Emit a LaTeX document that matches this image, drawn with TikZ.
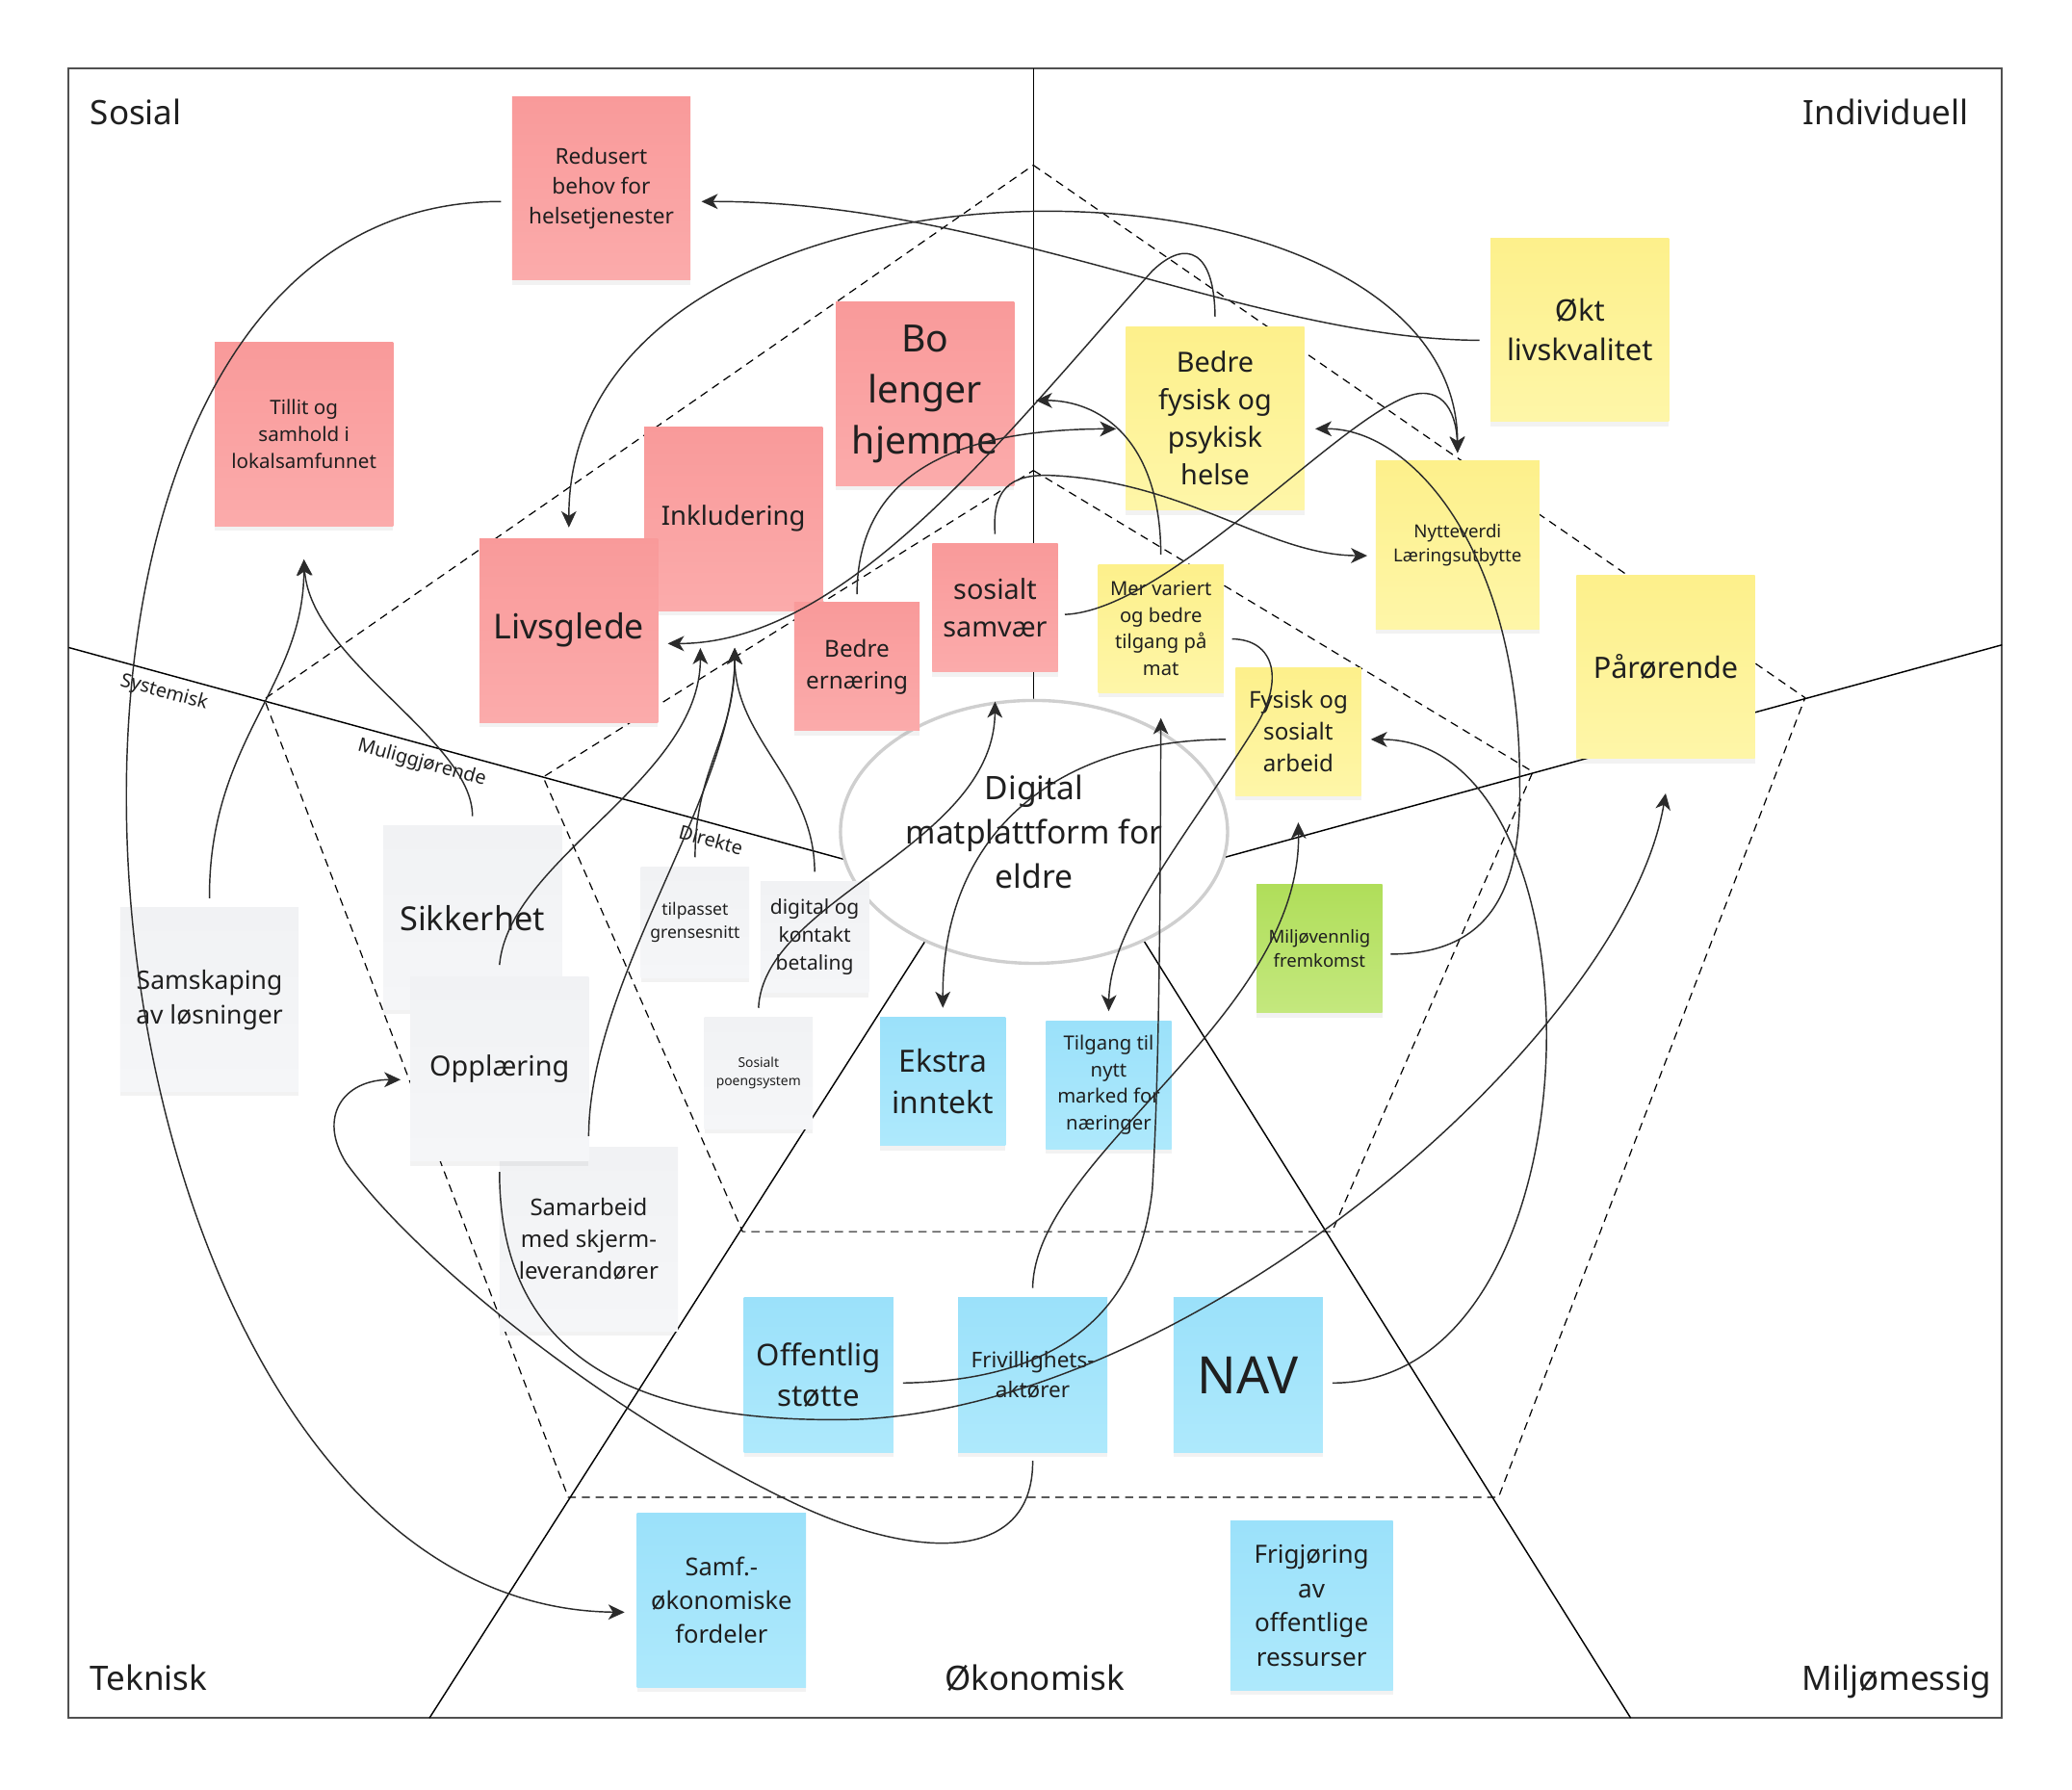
\documentclass[tikz,border=0pt]{standalone}
\usepackage{fontspec}
\setmainfont{Noto Sans}
\usepackage{xcolor}
\usetikzlibrary{arrows.meta,shapes.geometric,shadows,calc}

\newcommand{\fsz}[1]{\fontsize{\the\dimexpr #1pt*569/1000\relax}{\the\dimexpr #1pt*774/1000\relax}\selectfont}

\definecolor{ink}{HTML}{1F1F1F}
\definecolor{linedark}{HTML}{2B2B2B}
\definecolor{framegray}{HTML}{505050}
\definecolor{hubgray}{HTML}{CFCFCF}
\definecolor{redtop}{HTML}{F99A9A}
\definecolor{redbot}{HTML}{FBABAB}
\definecolor{yeltop}{HTML}{FDF08B}
\definecolor{yelbot}{HTML}{FEF6A8}
\definecolor{bluetop}{HTML}{9BE1FA}
\definecolor{bluebot}{HTML}{AEE9FC}
\definecolor{greentop}{HTML}{B0DE5A}
\definecolor{greenbot}{HTML}{C4E87E}
\definecolor{graytop}{HTML}{F1F2F4}
\definecolor{graybot}{HTML}{F5F6F8}

\begin{document}
\begin{tikzpicture}[x=0.02cm, y=-0.02cm]
		\tikzstyle{frame}=[draw=framegray, line width=0.8pt]
		\tikzstyle{sector}=[draw=black, line width=0.6pt]
		\tikzstyle{zone}=[draw=black, line width=0.5pt, dash pattern=on 3.5pt off 2.5pt]
		\tikzstyle{note}=[align=center, inner sep=2pt, text=ink, drop shadow={shadow xshift=0pt, shadow yshift=-2pt, opacity=0.10}]
		\tikzstyle{bigsize}=[minimum width=2.7cm, minimum height=2.78cm]
		\tikzstyle{midsize}=[minimum width=2.26cm, minimum height=2.34cm]
		\tikzstyle{smallsize}=[minimum width=1.9cm, minimum height=1.94cm]
		\tikzstyle{tinysize}=[minimum width=1.64cm, minimum height=1.68cm]
		\tikzstyle{rednote}=[note, top color=redtop, bottom color=redbot]
		\tikzstyle{yellownote}=[note, top color=yeltop, bottom color=yelbot]
		\tikzstyle{bluenote}=[note, top color=bluetop, bottom color=bluebot]
		\tikzstyle{greennote}=[note, top color=greentop, bottom color=greenbot]
		\tikzstyle{graynote}=[note, top color=graytop, bottom color=graybot]
		\tikzstyle{hub}=[ellipse, draw=hubgray, line width=1.4pt, fill=white, minimum width=5.86cm, minimum height=3.98cm, inner sep=0pt, align=center, text=ink, font=\fsz{24.5}]
		\tikzstyle{conn}=[draw=linedark, line width=0.6pt, -{Stealth[length=7pt,width=6.5pt,inset=2pt]}]
		\tikzstyle{conn2}=[conn, {Stealth[length=7pt,width=6.5pt,inset=2pt]}-{Stealth[length=7pt,width=6.5pt,inset=2pt]}]
		\tikzstyle{corner}=[inner sep=0pt, text=ink, font=\fsz{25.5}]
		\tikzstyle{level}=[sloped, below, inner sep=3.5pt, text=ink, font=\fsz{14.5}]

		\useasboundingbox (0,0) rectangle (1568,1354);
		\fill[white] (0,0) rectangle (1568,1354);
		\draw[frame] (52,52) rectangle (1515,1300);

		% dashed zones
		\draw[zone] (782,125) -- (1366,528) -- (1134,1133) -- (430,1133) -- (200,529) -- cycle;
		\draw[zone] (782,356) -- (1160,584) -- (1008,932) -- (562,932) -- (411,588) -- cycle;

		% sectors
		\draw[sector] (782,52) -- (782,600);
		\draw[sector] (52,490) -- (700,667)
			node[level, pos=0.117] {Systemisk}
			node[level, pos=0.418] {Muliggjørende}
			node[level, pos=0.755] {Direkte};
		\draw[sector] (1515,488) -- (860,667);
		\draw[sector] (325,1300) -- (720,681);
		\draw[sector] (1234,1300) -- (845,679);

		\node[hub] (plattform) at (782.5,629.5) {Digital\\matplattform for\\eldre};

		% sosial
		\node[rednote, bigsize, font=\fsz{16.5}] (redusert) at (455,142.5) {Redusert\\behov for\\helsetjenester};
		\node[rednote, bigsize, font=\fsz{15}] (tillit) at (230,328.5) {Tillit og\\samhold i\\lokalsamfunnet};
		\node[rednote, bigsize, font=\fsz{28.5}] (bo) at (700,298) {Bo\\lenger\\hjemme};
		\node[rednote, bigsize, font=\fsz{20}] (inkl) at (555,392.5) {Inkludering};
		\node[rednote, bigsize, font=\fsz{26}] (livsglede) at (430.5,477) {Livsglede};
		\node[rednote, smallsize, font=\fsz{17.7}] (ernaering) at (648.5,504.5) {Bedre\\ernæring};
		\node[rednote, smallsize, font=\fsz{21}] (samvaer) at (753,460) {sosialt\\samvær};

		% individuell
		\node[yellownote, bigsize, font=\fsz{22.5}] (okt) at (1195.5,249.5) {Økt\\livskvalitet};
		\node[yellownote, bigsize, font=\fsz{21}] (helse) at (919.5,316.5) {Bedre\\fysisk og\\psykisk\\helse};
		\node[yellownote, minimum width=2.48cm, minimum height=2.54cm, font=\fsz{13.6}] (nytte) at (1103,412.5) {Nytteverdi\\Læringsutbytte};
		\node[yellownote, bigsize, font=\fsz{22.3}] (paaror) at (1260.5,504.5) {Pårørende};
		\node[yellownote, smallsize, font=\fsz{14.7}] (mat) at (878.5,475.5) {Mer variert\\og bedre\\tilgang på\\mat};
		\node[yellownote, smallsize, font=\fsz{17.6}] (arbeid) at (982.5,553.5) {Fysisk og\\sosialt\\arbeid};

		% miljo
		\node[greennote, smallsize, font=\fsz{13.5}] (miljo) at (998.5,718) {Miljøvennlig\\fremkomst};

		% teknisk
		\node[graynote, bigsize, font=\fsz{25}] (sikkerhet) at (357.5,694.5) {Sikkerhet};
		\node[graynote, bigsize, font=\fsz{19.3}] (samskaping) at (158.5,756.5) {Samskaping\\av løsninger};
		\node[graynote, bigsize, font=\fsz{17.5}] (samarbeid) at (445.5,937.5) {Samarbeid\\med skjerm-\\leverandører};
		\node[graynote, bigsize, font=\fsz{21}] (opplaering) at (378,809) {Opplæring};
		\node[graynote, tinysize, font=\fsz{12.8}] (grensesnitt) at (526,698) {tilpasset\\grensesnitt};
		\node[graynote, tinysize, font=\fsz{15.3}] (betaling) at (616.5,709) {digital og\\kontakt\\betaling};
		\node[graynote, tinysize, font=\fsz{10.1}] (poeng) at (574,812) {Sosialt\\poengsystem};

		% okonomisk
		\node[bluenote, smallsize, font=\fsz{23.2}] (ekstra) at (713.5,818.5) {Ekstra\\inntekt};
		\node[bluenote, smallsize, font=\fsz{14.8}] (marked) at (839,821) {Tilgang til\\nytt\\marked for\\næringer};
		\node[bluenote, midsize, font=\fsz{22.7}] (offentlig) at (619.5,1040.5) {Offentlig\\støtte};
		\node[bluenote, midsize, font=\fsz{16.4}] (frivillig) at (781.5,1040.5) {Frivillighets-\\aktører};
		\node[bluenote, midsize, font=\fsz{39}] (nav) at (944.5,1040.5) {NAV};
		\node[bluenote, minimum width=2.56cm, minimum height=2.64cm, font=\fsz{18.6}] (samf) at (546,1211) {Samf.-\\økonomiske\\fordeler};
		\node[bluenote, minimum width=2.46cm, minimum height=2.56cm, font=\fsz{19}] (frigjoring) at (992.5,1215) {Frigjøring\\av\\offentlige\\ressurser};

		% connectors
		\draw[conn] ($(redusert.west)+(-8,10)$) .. controls (-55,152) and (38,1215) .. ($(samf.west)+(-9,9)$);
		\draw[conn] ($(okt.west)+(-8,8)$) .. controls (950,257) and (750,152) .. ($(redusert.east)+(8,10)$);
		\draw[conn2] ($(livsglede.north)+(0,-8)$) .. controls (430,93) and (1102,93) .. ($(nytte.north)+(0,-6)$);
		\draw[conn] ($(helse.north)+(0,-7)$) .. controls (919,190) and (898,180) .. (872,205) .. controls (760,330) and (640,487) .. ($(livsglede.east)+(7,10)$);
		\draw[conn] ($(ernaering.north)+(0,-6)$) .. controls (649,360) and (720,325) .. ($(helse.west)+(-7,8)$);
		\draw[conn] ($(mat.north)+(0,-7)$) .. controls (878,330) and (830,303) .. ($(bo.east)+(16,5)$);
		\draw[conn] ($(samvaer.north)+(0,-7)$) .. controls (750,365) and (770,358) .. (800,360) .. controls (900,366) and (960,420) .. ($(nytte.west)+(-6,8)$);
		\draw[conn] ($(samvaer.east)+(5,5)$) .. controls (880,462) and (1000,330) .. (1060,302) .. controls (1090,288) and (1102,310) .. ($(nytte.north)+(0,-6)$);
		\draw[conn] ($(miljo.east)+(6,4)$) .. controls (1130,722) and (1152,670) .. (1150,590) .. controls (1150,420) and (1070,324) .. ($(helse.east)+(8,8)$);
		\draw[conn] ($(arbeid.west)+(-7,6)$) .. controls (800,560) and (713,630) .. ($(ekstra.north)+(0,-7)$);
		\draw[conn] ($(mat.east)+(6,8)$) .. controls (965,484) and (972,515) .. (950,550) .. controls (900,630) and (840,700) .. ($(marked.north)+(0,-7)$);
		\draw[conn] ($(frivillig.north)+(0,-7)$) .. controls (783,875) and (985,770) .. ($(arbeid.south)+(0,20)$);
		\draw[conn] ($(offentlig.east)+(7,6)$) .. controls (780,1045) and (860,1010) .. (872,900) .. controls (878,800) and (878,650) .. ($(mat.south)+(0,19)$);
		\draw[conn] ($(nav.east)+(7,6)$) .. controls (1215,1047) and (1220,560) .. ($(arbeid.east)+(7,6)$);
		\draw[conn] ($(opplaering.south)+(0,8)$) .. controls (378,1040) and (500,1078) .. (650,1074) .. controls (910,1062) and (1230,780) .. ($(paaror.south)+(0,26)$);
		\draw[conn] ($(frivillig.south)+(0,6)$) .. controls (782,1185) and (690,1180) .. (600,1137) .. controls (470,1075) and (320,960) .. (262,880) .. controls (240,845) and (260,817) .. ($(opplaering.west)+(-7,8)$);
		\draw[conn] ($(samskaping.north)+(0,-7)$) .. controls (158,560) and (230,520) .. ($(tillit.south)+(0,25)$);
		\draw[conn] ($(sikkerhet.north)+(0,-7)$) .. controls (358,560) and (235,500) .. ($(tillit.south)+(0,25)$);
		\draw[conn] ($(opplaering.north)+(0,-9)$) .. controls (385,650) and (530,590) .. ($(inkl.south)+(-25,28)$);
		\draw[conn] ($(samarbeid.north)+(0,-8)$) .. controls (446,740) and (556,600) .. ($(inkl.south)+(1,28)$);
		\draw[conn] ($(grensesnitt.north)+(0,-7)$) .. controls (526,580) and (556,560) .. ($(inkl.south)+(1,28)$);
		\draw[conn] ($(betaling.north)+(0,-7)$) .. controls (616,590) and (556,560) .. ($(inkl.south)+(1,28)$);
		\draw[conn] ($(poeng.north)+(0,-7)$) .. controls (578,680) and (752,640) .. ($(samvaer.south)+(0,22)$);

		% corners
		\node[corner, anchor=base west] (sosial) at (68,94) {Sosial};
		\node[corner, anchor=base east] (individuell) at (1490,94) {Individuell};
		\node[corner, anchor=base west] (teknisk) at (68,1279) {Teknisk};
		\node[corner, anchor=base] (okonomisk) at (783,1279) {Økonomisk};
		\node[corner, anchor=base east] (miljomessig) at (1507,1279) {Miljømessig};
\end{tikzpicture}
\end{document}
